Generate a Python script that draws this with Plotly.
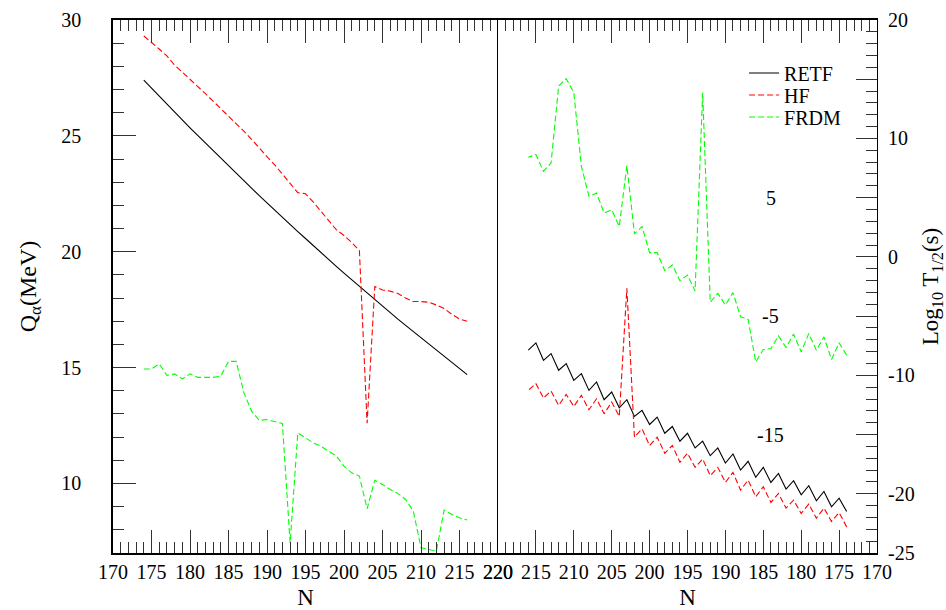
import plotly.graph_objects as go

N = list(range(174, 217))

# Left panel: Q_alpha (MeV)
q_retf = [27.41, 27.06, 26.72, 26.37, 26.03, 25.69, 25.35, 25.02, 24.69, 24.36,
          24.03, 23.70, 23.38, 23.06, 22.74, 22.42, 22.11, 21.79, 21.48, 21.17,
          20.87, 20.57, 20.26, 19.96, 19.67, 19.37, 19.08, 18.79, 18.50, 18.22,
          17.93, 17.65, 17.37, 17.09, 16.82, 16.55, 16.28, 16.01, 15.74, 15.48,
          15.22, 14.96, 14.70]
q_hf = [29.31, 29.05, 28.75, 28.45, 28.05, 27.75, 27.45, 27.15, 26.82, 26.50,
        26.18, 25.85, 25.52, 25.20, 24.85, 24.45, 24.10, 23.75, 23.35, 23.00,
        22.55, 22.50, 22.15, 21.75, 21.35, 20.95, 20.70, 20.40, 20.05, 12.60,
        18.50, 18.35, 18.30, 18.20, 18.00, 17.85, 17.85, 17.82, 17.70, 17.55,
        17.30, 17.10, 17.00]
q_frdm = [14.94, 14.94, 15.16, 14.66, 14.73, 14.51, 14.73, 14.58, 14.58, 14.58,
          14.63, 15.27, 15.27, 13.91, 13.12, 12.72, 12.76, 12.69, 12.59, 7.44,
          12.18, 11.97, 11.75, 11.61, 11.39, 11.18, 10.75, 10.46, 10.32, 8.91,
          10.14, 9.96, 9.74, 9.57, 9.31, 8.81, 7.23, 7.15, 7.08, 8.85,
          8.66, 8.52, 8.42]

# Right panel: Log10 T1/2 (s)  (listed for N = 174 ... 216)
t_retf = [-21.50, -20.37, -21.10, -19.80, -20.59, -19.32, -20.08, -18.90, -19.60, -18.28,
          -19.04, -17.77, -18.61, -17.26, -18.00, -16.64, -17.40, -16.13, -16.78, -15.56,
          -16.13, -14.89, -15.56, -14.32, -14.89, -13.53, -14.15, -12.96, -13.47, -12.06,
          -12.74, -11.41, -12.06, -10.56, -11.27, -9.86, -10.42, -9.01, -9.57, -8.16,
          -8.73, -7.26, -7.88]
t_hf = [-22.80, -21.58, -22.34, -21.21, -22.06, -20.87, -21.66, -20.54, -21.21, -19.97,
        -20.73, -19.41, -20.25, -18.84, -19.69, -18.19, -19.04, -17.77, -18.47, -17.06,
        -17.77, -16.58, -17.34, -15.93, -16.58, -15.22, -15.93, -14.52, -15.22, -2.65,
        -13.47, -12.26, -13.25, -11.98, -12.91, -11.69, -12.63, -11.61, -12.54, -11.33,
        -11.92, -10.70, -11.27]
t_frdm = [-8.30, -7.26, -8.67, -6.75, -7.88, -6.47, -8.02, -6.52, -7.65, -6.67,
          -7.74, -7.82, -8.87, -5.28, -5.05, -3.02, -4.07, -3.08, -3.83, 13.87,
          -2.89, -1.53, -2.01, -0.68, -1.16, 0.36, 0.36, 2.57, 1.94, 7.71,
          2.57, 3.98, 3.70, 5.39, 5.11, 7.65, 13.87, 15.05, 14.43, 7.93,
          7.23, 8.64, 8.41]

names = ["RETF", "HF", "FRDM"]
colors = ["#000000", "#ff0000", "#00ff00"]
dashes = ["solid", "6px,3px", "6px,3px"]
legends = ["legend", "legend2", "legend3"]

FONT = "Liberation Serif"

fig = go.Figure()
for ys, nm, c, d in zip([q_retf, q_hf, q_frdm], names, colors, dashes):
    fig.add_trace(go.Scatter(x=N, y=ys, mode="lines", name=nm, showlegend=False,
                             line=dict(color=c, width=1.1, dash=d),
                             xaxis="x", yaxis="y"))
for ys, nm, c, d, lg in zip([t_retf, t_hf, t_frdm], names, colors, dashes, legends):
    fig.add_trace(go.Scatter(x=N, y=ys, mode="lines", name=nm, showlegend=True,
                             legend=lg,
                             line=dict(color=c, width=1.1, dash=d),
                             xaxis="x2", yaxis="y2"))

split = 385 / 764
common_x = dict(showline=True, linecolor="black", linewidth=1.5, mirror="ticks",
                ticks="inside", ticklen=23, tickwidth=1.3, tickcolor="#333",
                dtick=5, showgrid=False, zeroline=False, automargin=False,
                tickfont=dict(family=FONT, size=20, color="black"),
                minor=dict(dtick=1, ticks="inside", ticklen=11, tickwidth=1.3,
                           tickcolor="#333", showgrid=False),
                title=dict(text="N", font=dict(family=FONT, size=23, color="black"),
                           standoff=9))

leg_common = dict(x=0.826, xanchor="left", yanchor="middle",
                  bgcolor="rgba(0,0,0,0)",
                  font=dict(family=FONT, size=20, color="black"), itemwidth=30)

fig.update_layout(
    width=946, height=610,
    margin=dict(l=113, r=69, t=20, b=57),
    paper_bgcolor="white", plot_bgcolor="white",
    font=dict(family=FONT, color="black"),
    xaxis=dict(domain=[0, split], range=[170, 220], tick0=170, **common_x),
    xaxis2=dict(domain=[split, 1], range=[220, 170], tick0=170, anchor="y2", **common_x),
    yaxis=dict(domain=[0, 1], range=[7, 30], anchor="x", automargin=False,
               tickvals=[10, 15, 20, 25, 30],
               showline=True, linecolor="black", linewidth=1.5, mirror=False,
               ticks="inside", ticklen=23, tickwidth=1.3, tickcolor="#333",
               ticklabelstandoff=26, showgrid=False, zeroline=False,
               tickfont=dict(family=FONT, size=20, color="black"),
               minor=dict(dtick=1, ticks="inside", ticklen=11, tickwidth=1.3,
                          tickcolor="#333", showgrid=False),
               title=dict(text="Q<sub>α</sub>(MeV)",
                          font=dict(family=FONT, size=24, color="black"), standoff=18)),
    yaxis2=dict(domain=[0, 1], range=[-25, 20], anchor="x2", side="right",
                automargin=False,
                tickvals=[-25, -20, -15, -10, -5, 0, 5, 10, 15, 20],
                ticktext=["-25", "-20", "", "-10", "", "0", "", "10", "", "20"],
                showline=True, linecolor="black", linewidth=1.2, mirror=True,
                ticks="inside", ticklen=21, tickwidth=1.3, tickcolor="#333",
                ticklabelstandoff=6, showgrid=False, zeroline=False,
                tickfont=dict(family=FONT, size=20, color="black"),
                minor=dict(dtick=1, ticks="inside", ticklen=11, tickwidth=1.3,
                           tickcolor="#333", showgrid=False),
                title=dict(text="Log<sub>10</sub> T<sub>1/2</sub>(s)",
                           font=dict(family=FONT, size=23, color="black"), standoff=12)),
    legend=dict(y=0.9006, **leg_common),
    legend2=dict(y=0.8593, **leg_common),
    legend3=dict(y=0.818, **leg_common),
)

for txt, yv in [("5", 5), ("-5", -5), ("-15", -15)]:
    fig.add_annotation(x=184, y=yv, xref="x2", yref="y2", text=txt, showarrow=False,
                       font=dict(family=FONT, size=20, color="black"), xanchor="center")

fig.write_html("out.html")
